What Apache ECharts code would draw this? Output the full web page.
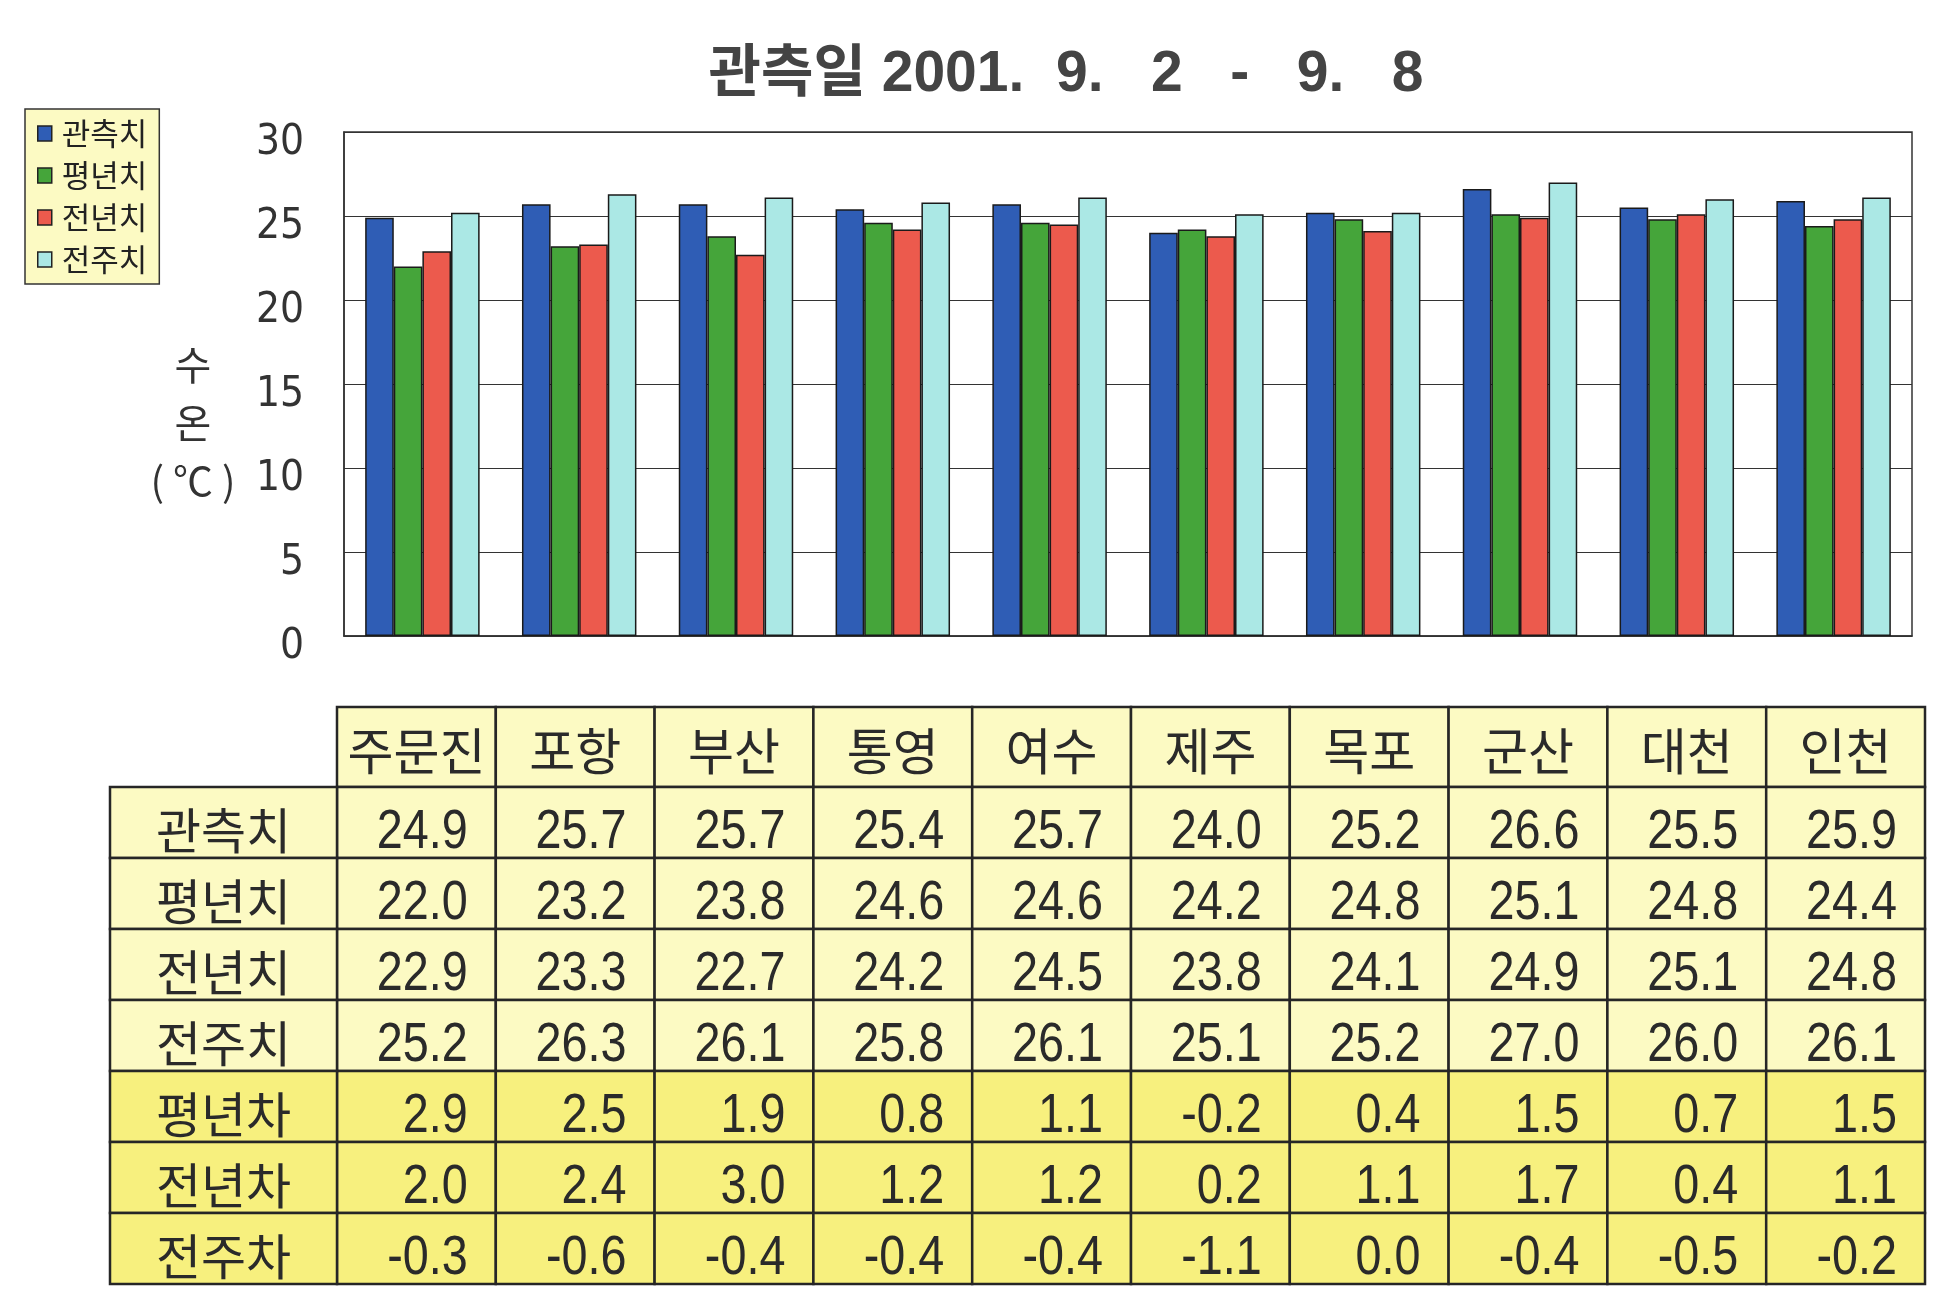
<!DOCTYPE html>
<html>
<head>
<meta charset="utf-8">
<script src="https://cdn.jsdelivr.net/npm/echarts@6/dist/echarts.min.js"></script>
<style>
html,body{margin:0;padding:0;background:#fff;}
#c{width:1960px;height:1300px;}
</style>
</head>
<body>
<div id="c"></div>
<script>
const cities = ['주문진','포항','부산','통영','여수','제주','목포','군산','대천','인천'];
const seriesNames = ['관측치','평년치','전년치','전주치'];
const observed   = [24.9,25.7,25.7,25.4,25.7,24.0,25.2,26.6,25.5,25.9];
const normal     = [22.0,23.2,23.8,24.6,24.6,24.2,24.8,25.1,24.8,24.4];
const lastYear   = [22.9,23.3,22.7,24.2,24.5,23.8,24.1,24.9,25.1,24.8];
const lastWeek   = [25.2,26.3,26.1,25.8,26.1,25.1,25.2,27.0,26.0,26.1];
const diffNormal   = [2.9,2.5,1.9,0.8,1.1,-0.2,0.4,1.5,0.7,1.5];
const diffLastYear = [2.0,2.4,3.0,1.2,1.2,0.2,1.1,1.7,0.4,1.1];
const diffLastWeek = [-0.3,-0.6,-0.4,-0.4,-0.4,-1.1,0.0,-0.4,-0.5,-0.2];
const rowLabels = ['관측치','평년치','전년치','전주치','평년차','전년차','전주차'];
const titleText = '관측일 2001.  9.   2   -   9.   8';
const axisName = '수\n온\n( ℃ )';

const colors = ['#2f5db5','#45a53a','#ec5a4d','#abe8e5'];
const lightYellow = '#fcfac3';
const darkYellow = '#f7f07e';
const lineCol = '#262626';
const AXIS_FONT = '"DejaVu Sans Condensed","Liberation Sans",sans-serif';
const NUM_FONT = '"Liberation Sans","Noto Sans CJK KR",sans-serif';
const KR_FONT = '"Noto Sans CJK KR","Noto Sans",sans-serif';

const tableRows = [observed, normal, lastYear, lastWeek, diffNormal, diffLastYear, diffLastWeek];
const bodyData = [], bodyText = [];
tableRows.forEach((row, r) => row.forEach((v, c) => {
  bodyData.push([c, r]);
  bodyText.push(v.toFixed(1));
}));
const headerData = cities.map((_, i) => [i, 0]);
const labelData = rowLabels.map((_, i) => [0, i]);

function cellBox(api) {
  const c = api.coord([api.value(0), api.value(1)]);
  const s = api.size([1, 1]);
  return {cx: c[0], cy: c[1], x: c[0] - s[0] / 2, y: c[1] - s[1] / 2, w: s[0], h: s[1]};
}

const chart = echarts.init(document.getElementById('c'));
const barSeries = [observed, normal, lastYear, lastWeek].map((d, i) => ({
  name: seriesNames[i],
  type: 'bar',
  xAxisIndex: 0, yAxisIndex: 0,
  data: d,
  barGap: '0%',
  barCategoryGap: '27%',
  itemStyle: {color: colors[i], borderColor: '#1a1a1a', borderWidth: 1.5},
  emphasis: {disabled: true}
}));

chart.setOption({
  animation: false,
  backgroundColor: '#fff',
  title: [
    {
      text: titleText,
      left: 1061, top: 42, textAlign: 'center',
      textStyle: {fontSize: 57, fontFamily: NUM_FONT, fontWeight: 'bold', color: '#444'}
    },
    {
      text: axisName,
      left: 188, top: 331, textAlign: 'center',
      textStyle: {fontSize: 40, fontFamily: KR_FONT, fontWeight: 'normal', color: '#333', lineHeight: 58, align: 'center'}
    }
  ],
  legend: {
    data: seriesNames,
    orient: 'vertical', left: 25, top: 109,
    backgroundColor: lightYellow, borderColor: '#333', borderWidth: 1.5,
    padding: [9, 12, 9, 12],
    itemWidth: 14, itemHeight: 15, itemGap: 11,
    icon: 'rect',
    itemStyle: {borderColor: '#222', borderWidth: 1.5},
    textStyle: {fontSize: 31, fontFamily: KR_FONT, color: '#222', padding: [0, 0, 0, 5]}
  },
  grid: [
    {left: 344, right: 48, top: 132, bottom: 664, show: true, borderColor: '#333', borderWidth: 1.5, backgroundColor: '#fff'},
    {left: 337, right: 35, top: 707, height: 80},
    {left: 337, right: 35, top: 787, height: 497},
    {left: 110, width: 227, top: 787, height: 497}
  ],
  xAxis: [
    {gridIndex: 0, type: 'category', data: cities, axisLabel: {show: false}, axisTick: {show: false},
     axisLine: {lineStyle: {color: '#333', width: 1.5}}},
    {gridIndex: 1, type: 'category', data: cities, show: false},
    {gridIndex: 2, type: 'category', data: cities, show: false},
    {gridIndex: 3, type: 'category', data: ['label'], show: false}
  ],
  yAxis: [
    {gridIndex: 0, type: 'value', min: 0, max: 30, interval: 5,
     axisLine: {show: true, lineStyle: {color: '#333', width: 1.5}},
     axisTick: {show: false},
     axisLabel: {fontSize: 42, fontFamily: AXIS_FONT, color: '#333', margin: 40, verticalAlign: 'top', lineHeight: 22},
     splitLine: {lineStyle: {color: '#333', width: 1.2}}},
    {gridIndex: 1, type: 'category', data: ['header'], show: false},
    {gridIndex: 2, type: 'category', data: rowLabels, inverse: true, show: false},
    {gridIndex: 3, type: 'category', data: rowLabels, inverse: true, show: false}
  ],
  series: barSeries.concat([
    {
      type: 'custom', xAxisIndex: 1, yAxisIndex: 1, data: headerData, silent: true,
      renderItem: function (params, api) {
        const b = cellBox(api);
        return {type: 'group', children: [
          {type: 'rect', shape: {x: b.x, y: b.y, width: b.w, height: b.h},
           style: {fill: lightYellow, stroke: lineCol, lineWidth: 2.5}},
          {type: 'text', x: b.cx, y: b.cy + 4, style: {text: cities[params.dataIndex],
            align: 'center', verticalAlign: 'middle', fontSize: 50, fontFamily: KR_FONT, fill: '#2a2a2a'}}
        ]};
      }
    },
    {
      type: 'custom', xAxisIndex: 2, yAxisIndex: 2, data: bodyData, silent: true,
      renderItem: function (params, api) {
        const b = cellBox(api);
        const r = api.value(1);
        return {type: 'group', children: [
          {type: 'rect', shape: {x: b.x, y: b.y, width: b.w, height: b.h},
           style: {fill: r >= 4 ? darkYellow : lightYellow, stroke: lineCol, lineWidth: 2.5}},
          {type: 'text', x: b.x + b.w - 28, y: b.cy + 10, scaleX: 0.85,
           style: {text: bodyText[params.dataIndex],
            align: 'right', verticalAlign: 'middle', fontSize: 55, fontFamily: NUM_FONT, fill: '#2a2a2a'}}
        ]};
      }
    },
    {
      type: 'custom', xAxisIndex: 3, yAxisIndex: 3, data: labelData, silent: true,
      renderItem: function (params, api) {
        const b = cellBox(api);
        const r = api.value(1);
        return {type: 'group', children: [
          {type: 'rect', shape: {x: b.x, y: b.y, width: b.w, height: b.h},
           style: {fill: r >= 4 ? darkYellow : lightYellow, stroke: lineCol, lineWidth: 2.5}},
          {type: 'text', x: b.cx, y: b.cy + 8, style: {text: rowLabels[params.dataIndex],
            align: 'center', verticalAlign: 'middle', fontSize: 49, fontFamily: KR_FONT, fill: '#2a2a2a'}}
        ]};
      }
    }
  ])
});
</script>
</body>
</html>
